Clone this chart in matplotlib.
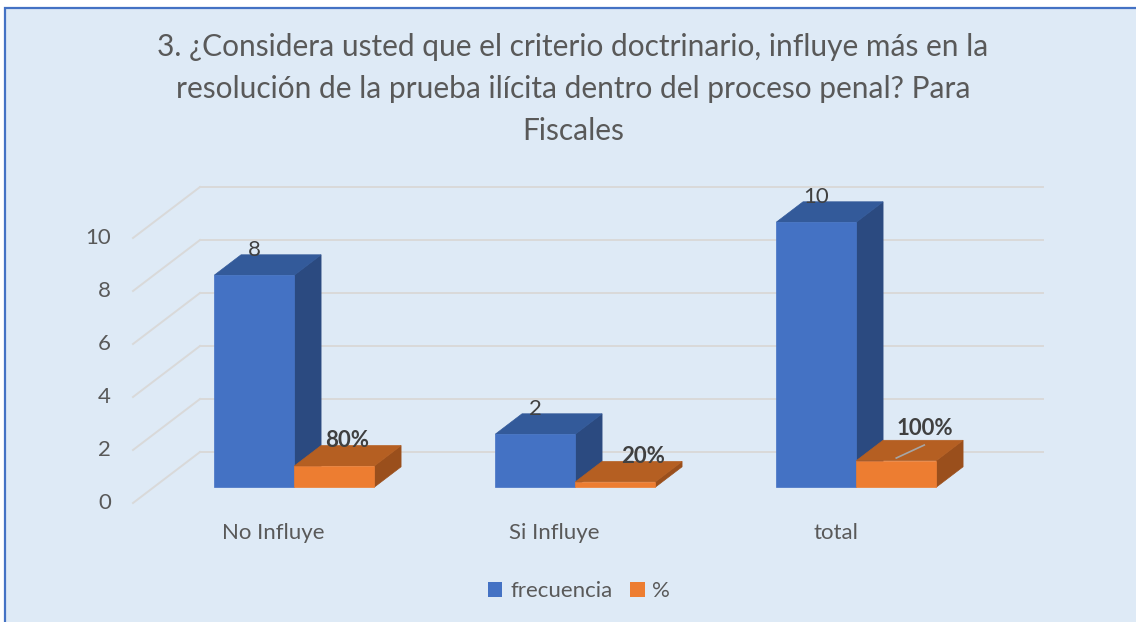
import matplotlib.pyplot as plt
from matplotlib.patches import Polygon, Rectangle, Patch

categories = ['No Influye', 'Si Influye', 'total']
frecuencia = [8, 2, 10]
porcentaje = [80, 20, 100]
y_ticks = [0, 2, 4, 6, 8, 10]

title = ('3. ¿Considera usted que el criterio doctrinario, influye más en la\n'
         'resolución de la prueba ilícita dentro del proceso penal? Para\n'
         'Fiscales')

BG = '#DEEAF6'
GRID = '#D9D9D9'
TXT = '#595959'
LBL = '#404040'
BLUE = ('#4472C4', '#335A9A', '#2B4A80')     # front, top, side
ORANGE = ('#ED7D31', '#B55F22', '#9A4F1C')

# layout of the fake 3d box (pixels -> data units)
W_PX, H_PX = 1136, 622
PX_X = 281.0    # px per category
PX_Y = 26.5     # px per value unit
X0_PX, Y0_PX = 133, 503   # front-left corner of the floor
DX = 67 / PX_X
DY = 51 / PX_Y
BW = 80 / PX_X
D0, D1 = 0.31, 0.71
FS = 16

plt.rcParams['font.family'] = ['Lato', 'DejaVu Sans']

fig = plt.figure(figsize=(W_PX / 100, H_PX / 100), dpi=100)
fig.patch.set_facecolor('white')
fig.patches.append(Rectangle((5 / W_PX, -0.05), 1.1, (H_PX - 8) / H_PX + 0.05,
                             transform=fig.transFigure, facecolor=BG,
                             edgecolor='#4472C4', linewidth=1.6, zorder=-10))

ax = fig.add_axes([0, 0, 1, 1])
ax.set_xlim(-0.5 - X0_PX / PX_X, -0.5 + (W_PX - X0_PX) / PX_X)
ax.set_ylim((Y0_PX - H_PX) / PX_Y, Y0_PX / PX_Y)
ax.axis('off')
ax.patch.set_alpha(0)

# gridlines: side wall diagonals + back wall
left, right = -0.5, len(categories) - 0.5
for v in y_ticks:
    ax.plot([left, left + DX], [v, v + DY], color=GRID, lw=1.4, zorder=1)
    ax.plot([left + DX, right + DX], [v + DY, v + DY], color=GRID, lw=1.4, zorder=1)
    ax.text(left - 22 / PX_X, v, str(v), ha='right', va='center',
            fontsize=FS, color=TXT)


def bar3d(x0, x1, h, cols):
    ox0, oy0 = D0 * DX, D0 * DY
    ox1, oy1 = D1 * DX, D1 * DY
    front = [(x0 + ox0, oy0), (x1 + ox0, oy0), (x1 + ox0, h + oy0), (x0 + ox0, h + oy0)]
    top = [(x0 + ox0, h + oy0), (x1 + ox0, h + oy0), (x1 + ox1, h + oy1), (x0 + ox1, h + oy1)]
    side = [(x1 + ox0, oy0), (x1 + ox1, oy1), (x1 + ox1, h + oy1), (x1 + ox0, h + oy0)]
    for pts, c in ((side, cols[2]), (top, cols[1]), (front, cols[0])):
        ax.add_patch(Polygon(pts, closed=True, facecolor=c, edgecolor=c,
                             linewidth=0.5, zorder=3))


pct_off = [(13, 5.5), (28, 5), (29, 11.5)]   # label nudges in px
for i, cat in enumerate(categories):
    f = frecuencia[i]
    p = porcentaje[i] / 100
    bar3d(i - BW, i, f, BLUE)
    bar3d(i, i + BW, p, ORANGE)

    ax.text(i - BW / 2 + D0 * DX, f + D1 * DY + 5 / PX_Y, str(f),
            ha='center', va='center', fontsize=FS, color=LBL, zorder=5)
    dx, dy = pct_off[i]
    lx = i + BW / 2 + D0 * DX + dx / PX_X
    ly = p + D1 * DY + dy / PX_Y
    ax.text(lx, ly, f'{porcentaje[i]}%', ha='center', va='center',
            fontsize=FS, fontweight='bold', color=LBL, zorder=5)
    ax.text(i, -30 / PX_Y, cat, ha='center', va='center', fontsize=FS, color=TXT)

# leader line for the last label
i = len(categories) - 1
p = porcentaje[i] / 100
ax.plot([i + BW / 2 + D0 * DX, i + BW / 2 + D0 * DX + 28 / PX_X],
        [p + D0 * DY + 0.1, p + D0 * DY + 0.1 + 13 / PX_Y],
        color='#A6A6A6', lw=1.2, zorder=4)

fig.text(0.5045, 1 - 89 / H_PX, title, ha='center', va='center', fontsize=21.5,
         color=TXT, linespacing=1.6)

handles = [Patch(facecolor=BLUE[0], label='frecuencia'),
           Patch(facecolor=ORANGE[0], label='%')]
fig.legend(handles=handles, loc='center', bbox_to_anchor=(579 / W_PX, 1 - 591 / H_PX),
           ncol=2, frameon=False, fontsize=FS, handlelength=0.65, handleheight=0.65,
           handletextpad=0.35, columnspacing=0.8, labelcolor=TXT)

fig.savefig('out.png', dpi=100, facecolor=fig.get_facecolor())
